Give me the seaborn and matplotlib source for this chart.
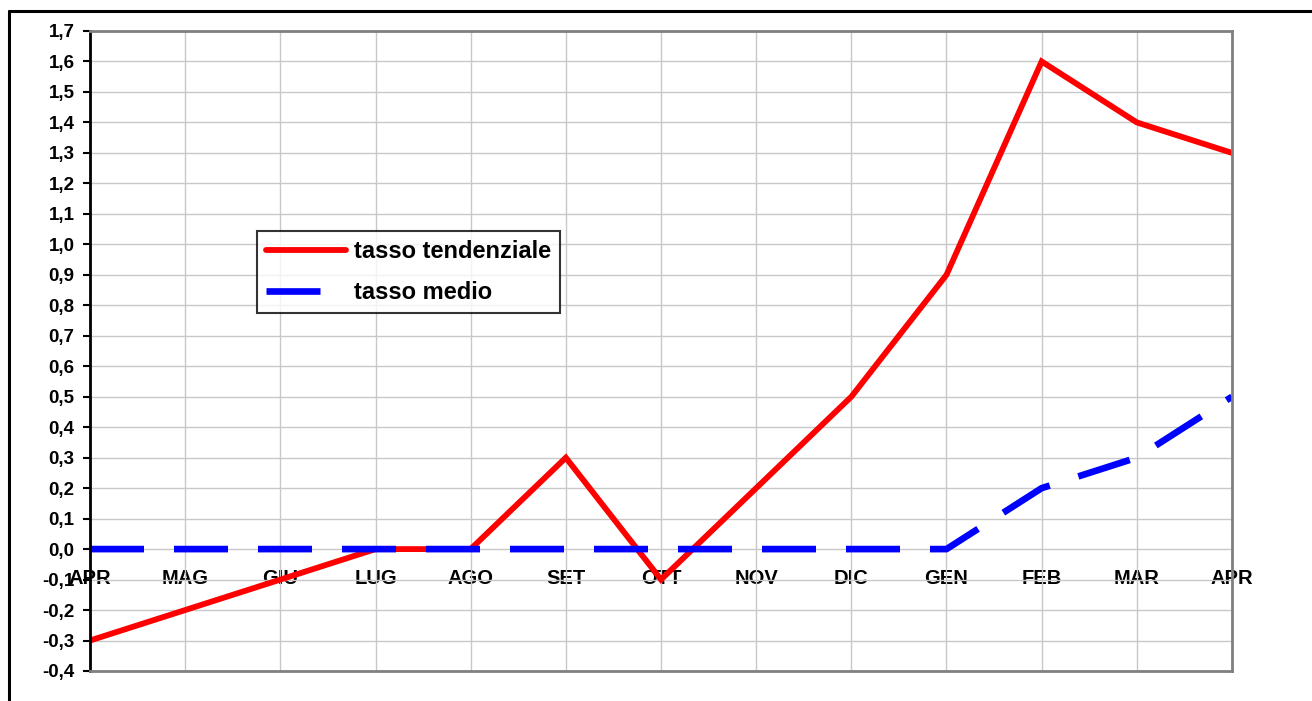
import matplotlib
matplotlib.use("Agg")
import matplotlib.pyplot as plt
from matplotlib.lines import Line2D
import seaborn as sns
import pandas as pd

# Dati
mesi = ["APR", "MAG", "GIU", "LUG", "AGO", "SET", "OTT", "NOV", "DIC", "GEN", "FEB", "MAR", "APR"]
tasso_tendenziale = [-0.3, -0.2, -0.1, 0.0, 0.0, 0.3, -0.1, 0.2, 0.5, 0.9, 1.6, 1.4, 1.3]
tasso_medio = [0.0, 0.0, 0.0, 0.0, 0.0, 0.0, 0.0, 0.0, 0.0, 0.0, 0.2, 0.3, 0.5]
y_ticks = [round(-0.4 + 0.1 * i, 1) for i in range(22)]

df = pd.DataFrame({"pos": range(len(mesi)), "mese": mesi,
                   "tendenziale": tasso_tendenziale, "medio": tasso_medio})

sns.set_theme(style="white")
plt.rcParams['font.family'] = ['Liberation Sans', 'DejaVu Sans']
plt.rcParams['font.weight'] = 'bold'
plt.rcParams['text.color'] = 'black'
plt.rcParams['xtick.color'] = 'black'
plt.rcParams['ytick.color'] = 'black'
plt.rcParams['xtick.labelcolor'] = 'black'
plt.rcParams['ytick.labelcolor'] = 'black'

fig = plt.figure(figsize=(13.12, 7.01), dpi=100)
ax = fig.add_axes([90 / 1312, 1 - 671 / 701, (1232 - 90) / 1312, (671 - 31) / 701])

sns.lineplot(data=df, x="pos", y="tendenziale", ax=ax, color="#ff0000", lw=4.2,
             sort=False, label="tasso tendenziale", solid_joinstyle="miter")
sns.lineplot(data=df, x="pos", y="medio", ax=ax, color="#0000ff", lw=4.8,
             sort=False, label="tasso medio", dashes=False)
ax.lines[1].set_dashes([8.1, 4.5])
ax.lines[1].set_dash_capstyle("butt")

ax.set_xlim(0, len(mesi) - 1)
ax.set_ylim(-0.4, 1.7)
ax.set_yticks(y_ticks)
ax.set_yticklabels([f"{v:.1f}".replace(".", ",") for v in y_ticks], fontsize=13.5,
                   fontweight="bold", color="black")
ax.set_xticks(df["pos"])
ax.set_xticklabels([])
ax.tick_params(axis="x", length=0)
ax.tick_params(axis="y", direction="out", length=5, width=1.5, color="black", pad=6, left=True)
ax.grid(True, color="#c8c8c8", lw=1)
ax.set_xlabel("")
ax.set_ylabel("")

for s in ["top", "right", "bottom"]:
    ax.spines[s].set_color("#808080")
    ax.spines[s].set_linewidth(2)
ax.spines["left"].set_color("black")
ax.spines["left"].set_linewidth(2)

# etichette categorie sull'asse che incrocia lo zero
sec = ax.secondary_xaxis(0, transform=ax.transData)
sec.set_xticks(df["pos"])
sec.set_xticklabels(mesi, fontsize=14.5, fontweight="bold", color="black")
sec.tick_params(axis="x", length=0, pad=14)
sec.spines["bottom"].set_visible(False)

leg = ax.legend(loc="upper left", bbox_to_anchor=(0.146, 0.688), fontsize=17,
                frameon=True, fancybox=False, borderpad=0.4, handlelength=3.4,
                handletextpad=0.3, labelspacing=0.75, borderaxespad=0)
leg.get_frame().set_edgecolor("black")
leg.get_frame().set_linewidth(1.5)
for t in leg.get_texts():
    t.set_fontweight("bold")
    t.set_color("black")

# cornice esterna
fig.add_artist(Line2D([9 / 1312, 9 / 1312], [0, 1 - 11 / 701], color="black", lw=2.2))
fig.add_artist(Line2D([9 / 1312, 1], [1 - 11 / 701, 1 - 11 / 701], color="black", lw=2.2))

fig.savefig("out.png", dpi=100)
